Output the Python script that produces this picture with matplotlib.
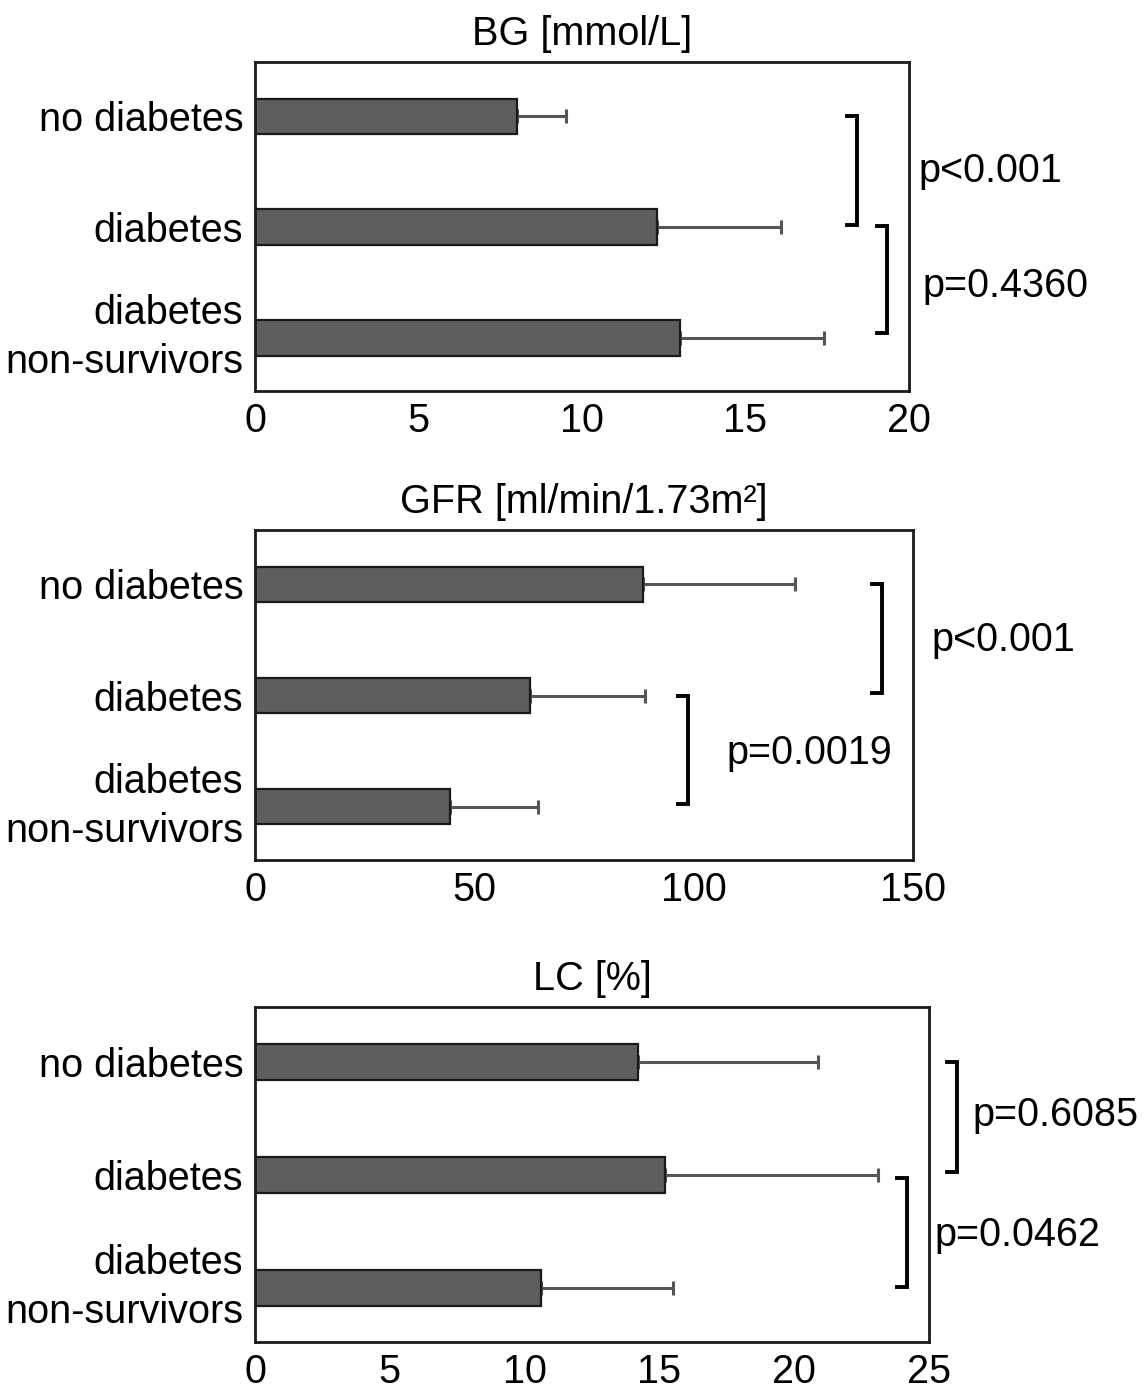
import matplotlib
matplotlib.use("Agg")
import matplotlib.pyplot as plt

plt.rcParams['font.family'] = ['Liberation Sans', 'DejaVu Sans']

categories = ["no diabetes", "diabetes", "diabetes\nnon-survivors"]

bg_title = "BG [mmol/L]"
bg_mean = [8.0, 12.3, 13.0]
bg_sd = [1.5, 3.8, 4.4]
bg_ticks = [0, 5, 10, 15, 20]

gfr_title = "GFR [ml/min/1.73m²]"
gfr_mean = [88.5, 62.8, 44.5]
gfr_sd = [34.5, 26.2, 20.0]
gfr_ticks = [0, 50, 100, 150]

lc_title = "LC [%]"
lc_mean = [14.2, 15.2, 10.6]
lc_sd = [6.7, 7.9, 4.9]
lc_ticks = [0, 5, 10, 15, 20, 25]

# p-value annotations: (y_start, y_end, bracket_x, text_x, text_y, label)
bg_p = [(0.0, 0.98, 18.4, 20.28, 0.49, "p<0.001"),
        (0.99, 1.96, 19.33, 20.4, 1.53, "p=0.4360")]
gfr_p = [(0.0, 0.98, 142.9, 154.3, 0.50, "p<0.001"),
         (1.0, 1.98, 98.7, 107.4, 1.52, "p=0.0019")]
lc_p = [(0.0, 0.97, 26.04, 26.6, 0.47, "p=0.6085"),
        (1.03, 1.99, 24.18, 25.2, 1.53, "p=0.0462")]

W, H = 1148, 1390
fig = plt.figure(figsize=(W / 100, H / 100), dpi=100)

FS = 28.5

def panel(rect_px, title, means, sds, ticks, pvals):
    l, t, r, b = rect_px
    ax = fig.add_axes([l / W, 1 - b / H, (r - l) / W, (b - t) / H])
    y = list(range(len(categories)))
    ax.barh(y, means, height=0.32, color="#5e5e5e", edgecolor="#1a1a1a",
            linewidth=1.6, zorder=2)
    ax.errorbar(means, y, xerr=[[0] * len(sds), sds], fmt="none",
                ecolor="#555555", elinewidth=2.2, capsize=5, capthick=2.2, zorder=1)
    ax.set_xlim(ticks[0], ticks[-1])
    ax.set_ylim(2.48, -0.49)
    ax.set_xticks(ticks)
    ax.set_xticklabels([str(v) for v in ticks], fontsize=FS)
    ax.set_yticks(y)
    ax.set_yticklabels(categories, fontsize=FS, linespacing=1.36)
    for lab in ax.get_yticklabels():
        if "\n" in lab.get_text():
            lab.set_va("center")
    ax.tick_params(axis="both", length=0)
    ax.tick_params(axis="y", pad=8.5)
    ax.tick_params(axis="x", pad=8)
    for s in ax.spines.values():
        s.set_linewidth(2.0)
        s.set_color("#1a1a1a")
    ax.set_title(title, fontsize=FS, pad=12)
    xr = ticks[-1] - ticks[0]
    tick_len = 10.0 / (r - l) * xr
    for (y0, y1, bx, tx, ty, lab) in pvals:
        ax.plot([bx - tick_len, bx, bx, bx - tick_len], [y0, y0, y1, y1],
                color="black", lw=2.8, clip_on=False, solid_joinstyle="miter",
                zorder=3)
        ax.text(tx, ty, lab, fontsize=FS, ha="left", va="center", clip_on=False)
    return ax

panel((255, 62, 909, 391), bg_title, bg_mean, bg_sd, bg_ticks, bg_p)
panel((255, 530, 913, 860), gfr_title, gfr_mean, gfr_sd, gfr_ticks, gfr_p)
panel((255, 1007, 929, 1342), lc_title, lc_mean, lc_sd, lc_ticks, lc_p)

fig.savefig("out.png", dpi=100)
